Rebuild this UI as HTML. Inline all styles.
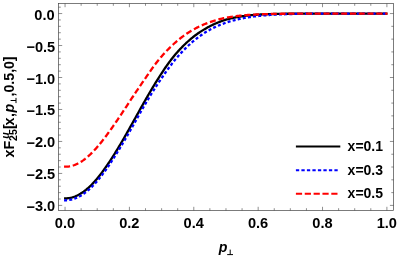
<!DOCTYPE html>
<html><head><meta charset="utf-8">
<style>
html,body{margin:0;padding:0;background:#fff;}
body{width:398px;height:256px;overflow:hidden;}
svg{display:block;will-change:transform;}
text{font-family:"Liberation Sans",sans-serif;font-weight:bold;fill:#000;}
.tl text{font-size:14.6px;}
.lg text{font-size:14px;}
</style></head>
<body>
<svg width="398" height="256" viewBox="0 0 398 256">
<rect x="0" y="0" width="398" height="256" fill="#fff"/>
<!-- curves -->
<g fill="none" stroke-width="2.3" stroke-linejoin="round">
<path stroke="#000" d="M64.05 198.37 L65.05 198.37 L65.85 198.35 L66.66 198.32 L67.46 198.26 L68.27 198.17 L69.07 198.06 L69.88 197.93 L70.68 197.77 L71.49 197.58 L72.29 197.37 L73.10 197.13 L73.90 196.87 L74.71 196.58 L75.51 196.27 L76.31 195.93 L77.12 195.56 L77.92 195.17 L78.73 194.76 L79.53 194.31 L80.34 193.84 L81.14 193.35 L81.95 192.83 L82.75 192.28 L83.56 191.71 L84.36 191.12 L85.17 190.50 L85.97 189.86 L86.77 189.19 L87.58 188.50 L88.38 187.78 L89.19 187.04 L89.99 186.28 L90.80 185.50 L91.60 184.69 L92.41 183.87 L93.21 183.02 L94.02 182.15 L94.82 181.25 L95.63 180.34 L96.43 179.41 L97.23 178.46 L98.04 177.49 L98.84 176.49 L99.65 175.48 L100.45 174.45 L101.26 173.41 L102.06 172.34 L102.87 171.26 L103.67 170.16 L104.48 169.04 L105.28 167.91 L106.09 166.76 L106.89 165.60 L107.70 164.43 L108.50 163.24 L109.30 162.04 L110.11 160.82 L110.91 159.59 L111.72 158.35 L112.52 157.10 L113.33 155.83 L114.13 154.55 L114.94 153.27 L115.74 151.97 L116.55 150.66 L117.35 149.34 L118.16 148.01 L118.96 146.68 L119.76 145.33 L120.57 143.97 L121.37 142.61 L122.18 141.23 L122.98 139.85 L123.79 138.46 L124.59 137.06 L125.40 135.66 L126.20 134.25 L127.01 132.83 L127.81 131.41 L128.62 129.99 L129.42 128.56 L130.22 127.12 L131.03 125.69 L131.83 124.25 L132.64 122.80 L133.44 121.36 L134.25 119.92 L135.05 118.47 L135.86 117.02 L136.66 115.58 L137.47 114.13 L138.27 112.69 L139.08 111.25 L139.88 109.81 L140.68 108.37 L141.49 106.93 L142.29 105.50 L143.10 104.07 L143.90 102.65 L144.71 101.23 L145.51 99.82 L146.32 98.42 L147.12 97.02 L147.93 95.62 L148.73 94.24 L149.54 92.86 L150.34 91.49 L151.14 90.13 L151.95 88.77 L152.75 87.43 L153.56 86.10 L154.36 84.77 L155.17 83.46 L155.97 82.15 L156.78 80.86 L157.58 79.57 L158.39 78.29 L159.19 77.01 L160.00 75.75 L160.80 74.50 L161.60 73.26 L162.41 72.03 L163.21 70.82 L164.02 69.62 L164.82 68.43 L165.63 67.26 L166.43 66.11 L167.24 64.97 L168.04 63.85 L168.85 62.74 L169.65 61.65 L170.46 60.59 L171.26 59.54 L172.07 58.50 L172.87 57.49 L173.67 56.50 L174.48 55.52 L175.28 54.56 L176.09 53.62 L176.89 52.69 L177.70 51.77 L178.50 50.87 L179.31 49.99 L180.11 49.12 L180.92 48.27 L181.72 47.43 L182.53 46.61 L183.33 45.80 L184.13 45.01 L184.94 44.23 L185.74 43.46 L186.55 42.71 L187.35 41.97 L188.16 41.24 L188.96 40.53 L189.77 39.82 L190.57 39.14 L191.38 38.46 L192.18 37.80 L192.99 37.15 L193.79 36.52 L194.59 35.90 L195.40 35.29 L196.20 34.70 L197.01 34.12 L197.81 33.55 L198.62 32.99 L199.42 32.44 L200.23 31.90 L201.03 31.38 L201.84 30.86 L202.64 30.36 L203.45 29.86 L204.25 29.38 L205.05 28.90 L205.86 28.44 L206.66 27.98 L207.47 27.53 L208.27 27.09 L209.08 26.66 L209.88 26.24 L210.69 25.83 L211.49 25.43 L212.30 25.03 L213.10 24.65 L213.91 24.27 L214.71 23.90 L215.51 23.55 L216.32 23.20 L217.12 22.86 L217.93 22.53 L218.73 22.21 L219.54 21.89 L220.34 21.59 L221.15 21.29 L221.95 21.01 L222.76 20.73 L223.56 20.46 L224.37 20.20 L225.17 19.95 L225.97 19.70 L226.78 19.47 L227.58 19.24 L228.39 19.02 L229.19 18.80 L230.00 18.60 L230.80 18.40 L231.61 18.21 L232.41 18.02 L233.22 17.84 L234.02 17.67 L234.83 17.51 L235.63 17.35 L236.44 17.20 L237.24 17.05 L238.04 16.91 L238.85 16.77 L239.65 16.63 L240.46 16.51 L241.26 16.38 L242.07 16.26 L242.87 16.15 L243.68 16.03 L244.48 15.93 L245.29 15.83 L246.09 15.73 L246.90 15.63 L247.70 15.54 L248.50 15.45 L249.31 15.37 L250.11 15.29 L250.92 15.21 L251.72 15.14 L252.53 15.07 L253.33 15.00 L254.14 14.94 L254.94 14.88 L255.75 14.82 L256.55 14.77 L257.36 14.71 L258.16 14.66 L258.96 14.62 L259.77 14.57 L260.57 14.52 L261.38 14.48 L262.18 14.44 L262.99 14.40 L263.79 14.36 L264.60 14.33 L265.40 14.29 L266.21 14.26 L267.01 14.23 L267.82 14.20 L268.62 14.17 L269.42 14.14 L270.23 14.11 L271.03 14.09 L271.84 14.06 L272.64 14.04 L273.45 14.02 L274.25 13.99 L275.06 13.97 L275.86 13.95 L276.67 13.93 L277.47 13.92 L278.28 13.90 L279.08 13.88 L279.88 13.87 L280.69 13.85 L281.49 13.84 L282.30 13.82 L283.10 13.81 L283.91 13.80 L284.71 13.78 L285.52 13.77 L286.32 13.76 L287.13 13.75 L287.93 13.74 L288.74 13.73 L289.54 13.72 L290.34 13.71 L291.15 13.71 L291.95 13.70 L292.76 13.69 L293.56 13.68 L294.37 13.68 L295.17 13.67 L295.98 13.66 L296.78 13.66 L297.59 13.65 L298.39 13.65 L299.20 13.64 L300.00 13.64 L300.81 13.63 L301.61 13.63 L302.41 13.62 L303.22 13.62 L304.02 13.62 L304.83 13.61 L305.63 13.61 L306.44 13.61 L307.24 13.60 L308.05 13.60 L308.85 13.60 L309.66 13.60 L310.46 13.59 L311.27 13.59 L312.07 13.59 L312.87 13.59 L313.68 13.58 L314.48 13.58 L315.29 13.58 L316.09 13.58 L316.90 13.58 L317.70 13.58 L318.51 13.57 L319.31 13.57 L320.12 13.57 L320.92 13.57 L321.73 13.57 L322.53 13.57 L323.33 13.57 L324.14 13.57 L324.94 13.57 L325.75 13.56 L326.55 13.56 L327.36 13.56 L328.16 13.56 L328.97 13.56 L329.77 13.56 L330.58 13.56 L331.38 13.56 L332.19 13.56 L332.99 13.56 L333.79 13.56 L334.60 13.56 L335.40 13.56 L336.21 13.56 L337.01 13.56 L337.82 13.56 L338.62 13.56 L339.43 13.56 L340.23 13.55 L341.04 13.55 L341.84 13.55 L342.65 13.55 L343.45 13.55 L344.25 13.55 L345.06 13.55 L345.86 13.55 L346.67 13.55 L347.47 13.55 L348.28 13.55 L349.08 13.55 L349.89 13.55 L350.69 13.55 L351.50 13.55 L352.30 13.55 L353.11 13.55 L353.91 13.55 L354.71 13.55 L355.52 13.55 L356.32 13.55 L357.13 13.55 L357.93 13.55 L358.74 13.55 L359.54 13.55 L360.35 13.55 L361.15 13.55 L361.96 13.55 L362.76 13.55 L363.57 13.55 L364.37 13.55 L365.18 13.55 L365.98 13.55 L366.78 13.55 L367.59 13.55 L368.39 13.55 L369.20 13.55 L370.00 13.55 L370.81 13.55 L371.61 13.55 L372.42 13.55 L373.22 13.55 L374.03 13.55 L374.83 13.55 L375.64 13.55 L376.44 13.55 L377.24 13.55 L378.05 13.55 L378.85 13.55 L379.66 13.55 L380.46 13.55 L381.27 13.55 L382.07 13.55 L382.88 13.55 L383.68 13.55 L384.49 13.55 L385.29 13.55 L386.10 13.55 L386.90 13.55 L387.50 13.55"/>
<path stroke="#0000ff" stroke-dasharray="3.0 2.2" d="M64.05 200.28 L65.05 200.28 L65.85 200.27 L66.66 200.24 L67.46 200.18 L68.27 200.10 L69.07 199.99 L69.88 199.86 L70.68 199.70 L71.49 199.52 L72.29 199.32 L73.10 199.09 L73.90 198.83 L74.71 198.56 L75.51 198.25 L76.31 197.92 L77.12 197.57 L77.92 197.19 L78.73 196.79 L79.53 196.36 L80.34 195.91 L81.14 195.43 L81.95 194.93 L82.75 194.40 L83.56 193.85 L84.36 193.28 L85.17 192.68 L85.97 192.06 L86.77 191.41 L87.58 190.75 L88.38 190.05 L89.19 189.34 L89.99 188.60 L90.80 187.84 L91.60 187.06 L92.41 186.25 L93.21 185.43 L94.02 184.58 L94.82 183.71 L95.63 182.82 L96.43 181.91 L97.23 180.97 L98.04 180.02 L98.84 179.05 L99.65 178.06 L100.45 177.05 L101.26 176.03 L102.06 174.98 L102.87 173.92 L103.67 172.84 L104.48 171.74 L105.28 170.63 L106.09 169.50 L106.89 168.35 L107.70 167.19 L108.50 166.02 L109.30 164.83 L110.11 163.63 L110.91 162.41 L111.72 161.18 L112.52 159.94 L113.33 158.69 L114.13 157.42 L114.94 156.15 L115.74 154.87 L116.55 153.58 L117.35 152.27 L118.16 150.97 L118.96 149.65 L119.76 148.32 L120.57 146.99 L121.37 145.65 L122.18 144.30 L122.98 142.95 L123.79 141.59 L124.59 140.22 L125.40 138.85 L126.20 137.47 L127.01 136.09 L127.81 134.70 L128.62 133.30 L129.42 131.90 L130.22 130.50 L131.03 129.09 L131.83 127.68 L132.64 126.26 L133.44 124.84 L134.25 123.41 L135.05 121.99 L135.86 120.56 L136.66 119.14 L137.47 117.71 L138.27 116.28 L139.08 114.86 L139.88 113.44 L140.68 112.03 L141.49 110.61 L142.29 109.21 L143.10 107.80 L143.90 106.41 L144.71 105.02 L145.51 103.64 L146.32 102.27 L147.12 100.91 L147.93 99.56 L148.73 98.22 L149.54 96.89 L150.34 95.57 L151.14 94.26 L151.95 92.96 L152.75 91.68 L153.56 90.40 L154.36 89.13 L155.17 87.87 L155.97 86.62 L156.78 85.38 L157.58 84.15 L158.39 82.93 L159.19 81.72 L160.00 80.52 L160.80 79.33 L161.60 78.15 L162.41 76.98 L163.21 75.81 L164.02 74.66 L164.82 73.52 L165.63 72.38 L166.43 71.25 L167.24 70.13 L168.04 69.02 L168.85 67.92 L169.65 66.83 L170.46 65.76 L171.26 64.69 L172.07 63.64 L172.87 62.61 L173.67 61.59 L174.48 60.58 L175.28 59.59 L176.09 58.62 L176.89 57.66 L177.70 56.73 L178.50 55.80 L179.31 54.89 L180.11 53.99 L180.92 53.11 L181.72 52.24 L182.53 51.39 L183.33 50.55 L184.13 49.72 L184.94 48.90 L185.74 48.10 L186.55 47.31 L187.35 46.54 L188.16 45.77 L188.96 45.02 L189.77 44.29 L190.57 43.56 L191.38 42.85 L192.18 42.15 L192.99 41.47 L193.79 40.80 L194.59 40.13 L195.40 39.48 L196.20 38.85 L197.01 38.22 L197.81 37.60 L198.62 37.00 L199.42 36.41 L200.23 35.83 L201.03 35.26 L201.84 34.70 L202.64 34.15 L203.45 33.62 L204.25 33.10 L205.05 32.58 L205.86 32.08 L206.66 31.59 L207.47 31.11 L208.27 30.64 L209.08 30.18 L209.88 29.73 L210.69 29.29 L211.49 28.87 L212.30 28.45 L213.10 28.04 L213.91 27.64 L214.71 27.26 L215.51 26.88 L216.32 26.51 L217.12 26.15 L217.93 25.79 L218.73 25.45 L219.54 25.11 L220.34 24.79 L221.15 24.47 L221.95 24.15 L222.76 23.85 L223.56 23.55 L224.37 23.26 L225.17 22.98 L225.97 22.70 L226.78 22.44 L227.58 22.17 L228.39 21.92 L229.19 21.67 L230.00 21.42 L230.80 21.19 L231.61 20.95 L232.41 20.73 L233.22 20.51 L234.02 20.29 L234.83 20.08 L235.63 19.88 L236.44 19.68 L237.24 19.48 L238.04 19.30 L238.85 19.11 L239.65 18.93 L240.46 18.76 L241.26 18.59 L242.07 18.43 L242.87 18.27 L243.68 18.11 L244.48 17.96 L245.29 17.82 L246.09 17.67 L246.90 17.54 L247.70 17.40 L248.50 17.27 L249.31 17.15 L250.11 17.03 L250.92 16.91 L251.72 16.79 L252.53 16.68 L253.33 16.57 L254.14 16.47 L254.94 16.37 L255.75 16.27 L256.55 16.17 L257.36 16.08 L258.16 15.99 L258.96 15.90 L259.77 15.82 L260.57 15.74 L261.38 15.66 L262.18 15.58 L262.99 15.51 L263.79 15.44 L264.60 15.37 L265.40 15.30 L266.21 15.24 L267.01 15.17 L267.82 15.11 L268.62 15.06 L269.42 15.00 L270.23 14.94 L271.03 14.89 L271.84 14.84 L272.64 14.79 L273.45 14.74 L274.25 14.70 L275.06 14.65 L275.86 14.61 L276.67 14.57 L277.47 14.53 L278.28 14.49 L279.08 14.46 L279.88 14.42 L280.69 14.39 L281.49 14.35 L282.30 14.32 L283.10 14.29 L283.91 14.26 L284.71 14.23 L285.52 14.20 L286.32 14.18 L287.13 14.15 L287.93 14.13 L288.74 14.10 L289.54 14.08 L290.34 14.06 L291.15 14.04 L291.95 14.02 L292.76 14.00 L293.56 13.98 L294.37 13.96 L295.17 13.94 L295.98 13.93 L296.78 13.91 L297.59 13.90 L298.39 13.88 L299.20 13.87 L300.00 13.85 L300.81 13.84 L301.61 13.83 L302.41 13.82 L303.22 13.80 L304.02 13.79 L304.83 13.78 L305.63 13.77 L306.44 13.76 L307.24 13.75 L308.05 13.74 L308.85 13.73 L309.66 13.73 L310.46 13.72 L311.27 13.71 L312.07 13.70 L312.87 13.70 L313.68 13.69 L314.48 13.68 L315.29 13.68 L316.09 13.67 L316.90 13.67 L317.70 13.66 L318.51 13.66 L319.31 13.65 L320.12 13.65 L320.92 13.64 L321.73 13.64 L322.53 13.63 L323.33 13.63 L324.14 13.63 L324.94 13.62 L325.75 13.62 L326.55 13.62 L327.36 13.61 L328.16 13.61 L328.97 13.61 L329.77 13.60 L330.58 13.60 L331.38 13.60 L332.19 13.60 L332.99 13.59 L333.79 13.59 L334.60 13.59 L335.40 13.59 L336.21 13.59 L337.01 13.58 L337.82 13.58 L338.62 13.58 L339.43 13.58 L340.23 13.58 L341.04 13.58 L341.84 13.57 L342.65 13.57 L343.45 13.57 L344.25 13.57 L345.06 13.57 L345.86 13.57 L346.67 13.57 L347.47 13.57 L348.28 13.57 L349.08 13.57 L349.89 13.56 L350.69 13.56 L351.50 13.56 L352.30 13.56 L353.11 13.56 L353.91 13.56 L354.71 13.56 L355.52 13.56 L356.32 13.56 L357.13 13.56 L357.93 13.56 L358.74 13.56 L359.54 13.56 L360.35 13.56 L361.15 13.56 L361.96 13.56 L362.76 13.56 L363.57 13.56 L364.37 13.56 L365.18 13.56 L365.98 13.55 L366.78 13.55 L367.59 13.55 L368.39 13.55 L369.20 13.55 L370.00 13.55 L370.81 13.55 L371.61 13.55 L372.42 13.55 L373.22 13.55 L374.03 13.55 L374.83 13.55 L375.64 13.55 L376.44 13.55 L377.24 13.55 L378.05 13.55 L378.85 13.55 L379.66 13.55 L380.46 13.55 L381.27 13.55 L382.07 13.55 L382.88 13.55 L383.68 13.55 L384.49 13.55 L385.29 13.55 L386.10 13.55 L386.90 13.55 L387.50 13.55"/>
<path stroke="#ff0000" stroke-dasharray="6.0 2.8" d="M64.05 166.71 L65.05 166.71 L65.85 166.70 L66.66 166.66 L67.46 166.60 L68.27 166.52 L69.07 166.41 L69.88 166.27 L70.68 166.12 L71.49 165.93 L72.29 165.72 L73.10 165.48 L73.90 165.22 L74.71 164.93 L75.51 164.62 L76.31 164.28 L77.12 163.92 L77.92 163.52 L78.73 163.11 L79.53 162.67 L80.34 162.20 L81.14 161.71 L81.95 161.19 L82.75 160.65 L83.56 160.09 L84.36 159.50 L85.17 158.89 L85.97 158.25 L86.77 157.59 L87.58 156.91 L88.38 156.20 L89.19 155.47 L89.99 154.72 L90.80 153.95 L91.60 153.16 L92.41 152.34 L93.21 151.51 L94.02 150.65 L94.82 149.78 L95.63 148.89 L96.43 147.98 L97.23 147.05 L98.04 146.10 L98.84 145.14 L99.65 144.17 L100.45 143.18 L101.26 142.18 L102.06 141.17 L102.87 140.14 L103.67 139.11 L104.48 138.06 L105.28 137.01 L106.09 135.94 L106.89 134.86 L107.70 133.78 L108.50 132.68 L109.30 131.58 L110.11 130.46 L110.91 129.34 L111.72 128.21 L112.52 127.07 L113.33 125.93 L114.13 124.77 L114.94 123.61 L115.74 122.44 L116.55 121.26 L117.35 120.08 L118.16 118.88 L118.96 117.69 L119.76 116.48 L120.57 115.28 L121.37 114.07 L122.18 112.86 L122.98 111.64 L123.79 110.42 L124.59 109.20 L125.40 107.98 L126.20 106.76 L127.01 105.54 L127.81 104.32 L128.62 103.09 L129.42 101.87 L130.22 100.65 L131.03 99.43 L131.83 98.22 L132.64 97.00 L133.44 95.79 L134.25 94.58 L135.05 93.37 L135.86 92.17 L136.66 90.97 L137.47 89.78 L138.27 88.59 L139.08 87.40 L139.88 86.22 L140.68 85.05 L141.49 83.88 L142.29 82.72 L143.10 81.56 L143.90 80.40 L144.71 79.23 L145.51 78.05 L146.32 76.88 L147.12 75.71 L147.93 74.54 L148.73 73.37 L149.54 72.21 L150.34 71.05 L151.14 69.91 L151.95 68.77 L152.75 67.65 L153.56 66.53 L154.36 65.43 L155.17 64.35 L155.97 63.29 L156.78 62.24 L157.58 61.21 L158.39 60.20 L159.19 59.22 L160.00 58.26 L160.80 57.32 L161.60 56.40 L162.41 55.48 L163.21 54.58 L164.02 53.69 L164.82 52.82 L165.63 51.95 L166.43 51.10 L167.24 50.26 L168.04 49.43 L168.85 48.62 L169.65 47.82 L170.46 47.03 L171.26 46.25 L172.07 45.48 L172.87 44.73 L173.67 43.99 L174.48 43.26 L175.28 42.55 L176.09 41.85 L176.89 41.15 L177.70 40.48 L178.50 39.81 L179.31 39.16 L180.11 38.51 L180.92 37.88 L181.72 37.26 L182.53 36.66 L183.33 36.06 L184.13 35.48 L184.94 34.91 L185.74 34.35 L186.55 33.80 L187.35 33.26 L188.16 32.73 L188.96 32.22 L189.77 31.71 L190.57 31.22 L191.38 30.73 L192.18 30.26 L192.99 29.80 L193.79 29.34 L194.59 28.90 L195.40 28.46 L196.20 28.04 L197.01 27.63 L197.81 27.22 L198.62 26.83 L199.42 26.44 L200.23 26.06 L201.03 25.69 L201.84 25.33 L202.64 24.98 L203.45 24.64 L204.25 24.30 L205.05 23.98 L205.86 23.66 L206.66 23.34 L207.47 23.04 L208.27 22.73 L209.08 22.44 L209.88 22.14 L210.69 21.86 L211.49 21.58 L212.30 21.31 L213.10 21.04 L213.91 20.79 L214.71 20.53 L215.51 20.29 L216.32 20.05 L217.12 19.82 L217.93 19.60 L218.73 19.38 L219.54 19.17 L220.34 18.97 L221.15 18.77 L221.95 18.58 L222.76 18.40 L223.56 18.22 L224.37 18.05 L225.17 17.89 L225.97 17.73 L226.78 17.58 L227.58 17.44 L228.39 17.30 L229.19 17.16 L230.00 17.03 L230.80 16.90 L231.61 16.78 L232.41 16.66 L233.22 16.54 L234.02 16.43 L234.83 16.32 L235.63 16.21 L236.44 16.11 L237.24 16.01 L238.04 15.92 L238.85 15.83 L239.65 15.74 L240.46 15.65 L241.26 15.57 L242.07 15.49 L242.87 15.41 L243.68 15.34 L244.48 15.27 L245.29 15.20 L246.09 15.13 L246.90 15.07 L247.70 15.01 L248.50 14.95 L249.31 14.89 L250.11 14.83 L250.92 14.78 L251.72 14.73 L252.53 14.68 L253.33 14.63 L254.14 14.59 L254.94 14.54 L255.75 14.50 L256.55 14.46 L257.36 14.42 L258.16 14.38 L258.96 14.35 L259.77 14.31 L260.57 14.28 L261.38 14.25 L262.18 14.22 L262.99 14.19 L263.79 14.16 L264.60 14.13 L265.40 14.11 L266.21 14.08 L267.01 14.06 L267.82 14.04 L268.62 14.01 L269.42 13.99 L270.23 13.97 L271.03 13.95 L271.84 13.93 L272.64 13.92 L273.45 13.90 L274.25 13.88 L275.06 13.87 L275.86 13.85 L276.67 13.84 L277.47 13.83 L278.28 13.81 L279.08 13.80 L279.88 13.79 L280.69 13.78 L281.49 13.77 L282.30 13.75 L283.10 13.75 L283.91 13.74 L284.71 13.73 L285.52 13.72 L286.32 13.71 L287.13 13.70 L287.93 13.69 L288.74 13.69 L289.54 13.68 L290.34 13.67 L291.15 13.67 L291.95 13.66 L292.76 13.66 L293.56 13.65 L294.37 13.65 L295.17 13.64 L295.98 13.64 L296.78 13.63 L297.59 13.63 L298.39 13.62 L299.20 13.62 L300.00 13.62 L300.81 13.61 L301.61 13.61 L302.41 13.61 L303.22 13.60 L304.02 13.60 L304.83 13.60 L305.63 13.60 L306.44 13.59 L307.24 13.59 L308.05 13.59 L308.85 13.59 L309.66 13.58 L310.46 13.58 L311.27 13.58 L312.07 13.58 L312.87 13.58 L313.68 13.58 L314.48 13.57 L315.29 13.57 L316.09 13.57 L316.90 13.57 L317.70 13.57 L318.51 13.57 L319.31 13.57 L320.12 13.57 L320.92 13.57 L321.73 13.56 L322.53 13.56 L323.33 13.56 L324.14 13.56 L324.94 13.56 L325.75 13.56 L326.55 13.56 L327.36 13.56 L328.16 13.56 L328.97 13.56 L329.77 13.56 L330.58 13.56 L331.38 13.56 L332.19 13.56 L332.99 13.56 L333.79 13.56 L334.60 13.56 L335.40 13.56 L336.21 13.55 L337.01 13.55 L337.82 13.55 L338.62 13.55 L339.43 13.55 L340.23 13.55 L341.04 13.55 L341.84 13.55 L342.65 13.55 L343.45 13.55 L344.25 13.55 L345.06 13.55 L345.86 13.55 L346.67 13.55 L347.47 13.55 L348.28 13.55 L349.08 13.55 L349.89 13.55 L350.69 13.55 L351.50 13.55 L352.30 13.55 L353.11 13.55 L353.91 13.55 L354.71 13.55 L355.52 13.55 L356.32 13.55 L357.13 13.55 L357.93 13.55 L358.74 13.55 L359.54 13.55 L360.35 13.55 L361.15 13.55 L361.96 13.55 L362.76 13.55 L363.57 13.55 L364.37 13.55 L365.18 13.55 L365.98 13.55 L366.78 13.55 L367.59 13.55 L368.39 13.55 L369.20 13.55 L370.00 13.55 L370.81 13.55 L371.61 13.55 L372.42 13.55 L373.22 13.55 L374.03 13.55 L374.83 13.55 L375.64 13.55 L376.44 13.55 L377.24 13.55 L378.05 13.55 L378.85 13.55 L379.66 13.55 L380.46 13.55 L381.27 13.55 L382.07 13.55 L382.88 13.55 L383.68 13.55 L384.49 13.55 L385.29 13.55 L386.10 13.55 L386.90 13.55 L387.50 13.55"/>
</g>
<!-- frame + ticks -->
<rect x="58.50" y="3.50" width="335.10" height="207.00" fill="none" stroke="#444" stroke-width="0.7"/>
<path d="M65.05 210.50 v-3.70 M65.05 3.50 v3.70 M81.14 210.50 v-2.30 M81.14 3.50 v2.30 M97.23 210.50 v-2.30 M97.23 3.50 v2.30 M113.33 210.50 v-2.30 M113.33 3.50 v2.30 M129.42 210.50 v-3.70 M129.42 3.50 v3.70 M145.51 210.50 v-2.30 M145.51 3.50 v2.30 M161.61 210.50 v-2.30 M161.61 3.50 v2.30 M177.70 210.50 v-2.30 M177.70 3.50 v2.30 M193.79 210.50 v-3.70 M193.79 3.50 v3.70 M209.88 210.50 v-2.30 M209.88 3.50 v2.30 M225.97 210.50 v-2.30 M225.97 3.50 v2.30 M242.07 210.50 v-2.30 M242.07 3.50 v2.30 M258.16 210.50 v-3.70 M258.16 3.50 v3.70 M274.25 210.50 v-2.30 M274.25 3.50 v2.30 M290.34 210.50 v-2.30 M290.34 3.50 v2.30 M306.44 210.50 v-2.30 M306.44 3.50 v2.30 M322.53 210.50 v-3.70 M322.53 3.50 v3.70 M338.62 210.50 v-2.30 M338.62 3.50 v2.30 M354.71 210.50 v-2.30 M354.71 3.50 v2.30 M370.81 210.50 v-2.30 M370.81 3.50 v2.30 M386.90 210.50 v-3.70 M386.90 3.50 v3.70 M58.50 205.40 h3.70 M393.60 205.40 h-3.70 M58.50 199.01 h2.30 M58.50 192.61 h2.30 M393.60 192.61 h-2.30 M58.50 186.22 h2.30 M58.50 179.82 h2.30 M393.60 179.82 h-2.30 M58.50 173.43 h3.70 M58.50 167.03 h2.30 M393.60 167.03 h-2.30 M58.50 160.64 h2.30 M58.50 154.24 h2.30 M393.60 154.24 h-2.30 M58.50 147.85 h2.30 M58.50 141.45 h3.70 M393.60 141.45 h-3.70 M58.50 135.06 h2.30 M58.50 128.66 h2.30 M393.60 128.66 h-2.30 M58.50 122.27 h2.30 M58.50 115.87 h2.30 M393.60 115.87 h-2.30 M58.50 109.48 h3.70 M58.50 103.08 h2.30 M393.60 103.08 h-2.30 M58.50 96.69 h2.30 M58.50 90.29 h2.30 M393.60 90.29 h-2.30 M58.50 83.90 h2.30 M58.50 77.50 h3.70 M393.60 77.50 h-3.70 M58.50 71.11 h2.30 M58.50 64.71 h2.30 M393.60 64.71 h-2.30 M58.50 58.32 h2.30 M58.50 51.92 h2.30 M393.60 51.92 h-2.30 M58.50 45.53 h3.70 M58.50 39.13 h2.30 M393.60 39.13 h-2.30 M58.50 32.73 h2.30 M58.50 26.34 h2.30 M393.60 26.34 h-2.30 M58.50 19.95 h2.30 M58.50 13.55 h3.70 M393.60 13.55 h-3.70 M58.50 7.16 h2.30" fill="none" stroke="#444" stroke-width="0.6"/>
<!-- tick labels -->
<g class="tl"><text x="64.95" y="227.80" text-anchor="middle">0.0</text><text x="129.32" y="227.80" text-anchor="middle">0.2</text><text x="193.69" y="227.80" text-anchor="middle">0.4</text><text x="258.06" y="227.80" text-anchor="middle">0.6</text><text x="322.43" y="227.80" text-anchor="middle">0.8</text><text x="386.80" y="227.80" text-anchor="middle">1.0</text><text x="54.65" y="19.55" text-anchor="end">0.0</text><text x="54.65" y="51.53" text-anchor="end"><tspan dx="0.6" dy="0.55">−</tspan><tspan dx="-0.2" dy="-0.55">0.5</tspan></text><text x="54.65" y="83.50" text-anchor="end"><tspan dx="0.6" dy="0.55">−</tspan><tspan dx="-0.2" dy="-0.55">1.0</tspan></text><text x="54.65" y="115.48" text-anchor="end"><tspan dx="0.6" dy="0.55">−</tspan><tspan dx="-0.2" dy="-0.55">1.5</tspan></text><text x="54.65" y="147.45" text-anchor="end"><tspan dx="0.6" dy="0.55">−</tspan><tspan dx="-0.2" dy="-0.55">2.0</tspan></text><text x="54.65" y="179.43" text-anchor="end"><tspan dx="0.6" dy="0.55">−</tspan><tspan dx="-0.2" dy="-0.55">2.5</tspan></text><text x="54.65" y="211.40" text-anchor="end"><tspan dx="0.6" dy="0.55">−</tspan><tspan dx="-0.2" dy="-0.55">3.0</tspan></text></g>
<!-- legend -->
<g class="lg">
<path d="M295.9 146.5H340.3" stroke="#000" stroke-width="2" fill="none"/>
<path d="M295.9 170.2H339" stroke="#0000ff" stroke-width="2" stroke-dasharray="3.3 2.2" fill="none"/>
<path d="M295.9 193.8H339" stroke="#ff0000" stroke-width="2" stroke-dasharray="6.2 2.65" fill="none"/>
<text x="347.6" y="150.9">x=0.1</text>
<text x="347.6" y="174.6">x=0.3</text>
<text x="347.6" y="197.9">x=0.5</text>
</g>
<!-- x axis label -->
<g>
<text x="218.8" y="252" font-size="14.2" font-style="italic">p</text>
<path d="M227.2 254.6H233M230.2 254.6V249.6" stroke="#000" stroke-width="1" fill="none"/>
</g>
<!-- y axis label -->
<g transform="translate(14.2 157.5) rotate(-90)" font-size="14.2">
<text x="0" y="0">xF</text>
<text x="16.5" y="2.9" font-size="10.6">25</text>
<text x="18.8" y="-5.5" font-size="10.6" font-style="italic">u</text>
<text x="28.4" y="0">[</text>
<text x="31.9" y="0">x</text>
<text x="40.6" y="0">,</text>
<text x="45" y="0" font-style="italic">p</text>
<path d="M54.4 1.8H59.6M57 1.8V-3.6" stroke="#000" stroke-width="1" fill="none"/>
<text x="61" y="0">,0.5,0</text>
<text x="96.2" y="0">]</text>
</g>
</svg>
</body></html>
